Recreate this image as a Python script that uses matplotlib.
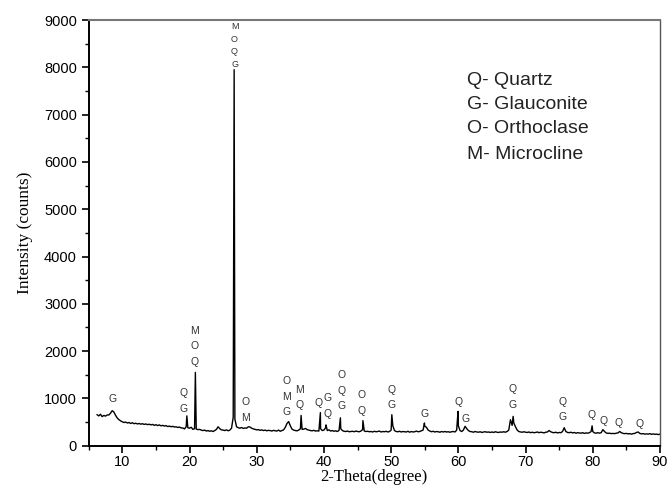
import matplotlib
matplotlib.use("Agg")
import matplotlib.pyplot as plt
import numpy as np

# XRD scan: 2-theta from 6.25 to 90 deg, 0.25 deg step (background counts)
scan_start = 6.25
scan_step = 0.25
background = [
    655, 630, 665,
    615, 640, 625, 650,      # 7
    650, 690, 740, 710,      # 8
    640, 585, 550, 525,      # 9
    505, 490, 500, 480,      # 10
    490, 470, 485, 465,      # 11
    475, 460, 470, 455,      # 12
    465, 450, 460, 445,      # 13
    455, 440, 450, 430,      # 14
    445, 425, 440, 420,      # 15
    430, 415, 425, 405,      # 16
    415, 400, 410, 395,      # 17
    400, 385, 395, 375,      # 18
    375, 355, 400, 380,      # 19
    370, 390, 345, 360,      # 20
    350, 340, 345, 330,      # 21
    320, 330, 310, 320,      # 22
    305, 315, 300, 320,      # 23
    345, 400, 360, 335,      # 24
    330, 320, 335, 315,      # 25
    330, 370, 600, 560,      # 26
    400, 380, 370, 385,      # 27
    365, 375, 370, 400,      # 28
    395, 370, 355, 345,      # 29
    335, 340, 325, 335,      # 30
    320, 330, 315, 325,      # 31
    320, 310, 325, 315,      # 32
    310, 330, 305, 320,      # 33
    335, 390, 470, 510,      # 34
    420, 350, 330, 320,      # 35
    315, 330, 360, 345,      # 36
    350, 365, 340, 330,      # 37
    320, 315, 325, 310,      # 38
    315, 310, 360, 320,      # 39
    330, 380, 320, 335,      # 40
    310, 320, 305, 315,      # 41
    300, 325, 360, 320,      # 42
    305, 300, 310, 295,      # 43
    300, 305, 295, 310,      # 44
    300, 295, 310, 340,      # 45
    310, 300, 305, 295,      # 46
    300, 290, 305, 295,      # 47
    300, 310, 290, 300,      # 48
    295, 305, 290, 300,      # 49
    330, 420, 320, 300,      # 50
    295, 305, 290, 300,      # 51
    295, 290, 305, 285,      # 52
    300, 290, 295, 310,      # 53
    295, 300, 315, 330,      # 54
    410, 390, 330, 310,      # 55
    295, 305, 290, 300,      # 56
    295, 285, 300, 290,      # 57
    300, 290, 295, 285,      # 58
    295, 300, 290, 330,      # 59
    420, 320, 300, 330,      # 60
    410, 360, 320, 300,      # 61
    295, 285, 300, 290,      # 62
    285, 295, 280, 290,      # 63
    295, 285, 290, 280,      # 64
    290, 280, 295, 285,      # 65
    280, 290, 285, 295,      # 66
    285, 300, 330, 550,      # 67
    430, 480, 400, 330,      # 68
    300, 290, 285, 295,      # 69
    285, 280, 290, 275,      # 70
    285, 275, 280, 290,      # 71
    275, 285, 280, 270,      # 72
    285, 290, 320, 295,      # 73
    280, 275, 285, 270,      # 74
    280, 275, 300, 380,      # 75
    300, 280, 275, 285,      # 76
    270, 280, 265, 275,      # 77
    270, 265, 275, 260,      # 78
    270, 265, 275, 300,      # 79
    300, 270, 265, 275,      # 80
    265, 275, 340, 300,      # 81
    270, 260, 265, 255,      # 82
    260, 255, 265, 270,      # 83
    300, 275, 260, 255,      # 84
    260, 250, 255, 245,      # 85
    255, 260, 280, 290,      # 86
    260, 250, 255, 245,      # 87
    250, 245, 255, 240,      # 88
    250, 240, 245, 235,      # 89
    245,                     # 90
]

# sharp reflections (2-theta, counts)
peak_pos = [19.6, 20.87, 26.64, 36.6, 39.47, 40.3, 42.45, 45.8, 50.1, 54.95, 59.95, 68.15, 79.9]
peak_int = [630, 1550, 7950, 640, 700, 440, 590, 530, 655, 480, 725, 620, 420]

# phase labels: 2-theta, counts of lowest letter, letters top to bottom
label_pos = [8.6, 19.15, 20.75, 28.4, 34.5, 36.3, 39.2, 40.6, 42.6, 45.6, 50.0,
             54.9, 60.0, 61.0, 68.0, 75.5, 79.8, 81.6, 83.9, 86.9]
label_int = [994, 780, 1775, 585, 710, 850, 900, 670, 830, 740, 850,
             670, 920, 570, 870, 600, 640, 515, 490, 465]
label_txt = ["G", "QG", "MOQ", "OM", "OMG", "MQ", "Q", "GQ", "OQG", "OQ", "QG",
             "G", "Q", "G", "QG", "QG", "Q", "Q", "Q", "Q"]
main_label_pos = 26.7
main_label_int = 8070
main_label_txt = "MOQG"

legend_lines = ["Q- Quartz", "G- Glauconite", "O- Orthoclase", "M- Microcline"]

theta = scan_start + scan_step * np.arange(len(background))
x = np.concatenate([theta, peak_pos])
y = np.concatenate([background, peak_int])
order = np.argsort(x, kind="stable")
x = x[order]
y = y[order]

fig = plt.figure(figsize=(6.68, 4.87), dpi=100)
ax = fig.add_axes([0.1328, 0.0848, 0.988 - 0.1328, 0.9589 - 0.0848])

ax.plot(x, y, color="black", linewidth=1.0)

# stacked phase letters above the peaks
for px, py, txt in zip(label_pos, label_int, label_txt):
    for i, letter in enumerate(reversed(txt)):
        ax.annotate(letter, (px, py), xytext=(0, i * 11.2), textcoords="offset points",
                    ha="center", va="center", fontsize=7.5, family="Liberation Sans",
                    color="#333333")
for i, letter in enumerate(reversed(main_label_txt)):
    ax.annotate(letter, (main_label_pos, main_label_int), xytext=(0, i * 8.9),
                textcoords="offset points", ha="center", va="center", fontsize=6.5,
                family="Liberation Sans", color="#333333")

leg_y = [7717, 7218, 6696, 6167]
for txt, ly in zip(legend_lines, leg_y):
    ax.text(61.3, ly, txt, ha="left", va="center", fontsize=14,
            family="Liberation Sans", color="#222222")

ax.set_xlim(5, 90)
ax.set_ylim(0, 9000)
ax.set_xticks(np.arange(10, 91, 10))
ax.set_xticks(np.arange(5, 91, 5), minor=True)
ax.set_yticks(np.arange(0, 9001, 1000))
ax.set_yticks(np.arange(0, 9001, 500), minor=True)

ax.tick_params(which="major", direction="out", length=5, width=1.2, labelsize=10.5)
ax.tick_params(axis="x", which="major", pad=2)
ax.tick_params(which="minor", direction="out", length=3, width=1.0)
ax.tick_params(top=False, right=False, which="both")
for lab in ax.get_xticklabels() + ax.get_yticklabels():
    lab.set_family("Liberation Sans")

ax.spines["left"].set_linewidth(1.4)
ax.spines["bottom"].set_linewidth(1.4)
ax.spines["top"].set_color("#777777")
ax.spines["top"].set_linewidth(1.5)
ax.spines["right"].set_color("#555555")
ax.spines["right"].set_linewidth(1.0)

ax.set_xlabel("2-Theta(degree)", family="Liberation Serif", fontsize=12, labelpad=0)
ax.set_ylabel("Intensity (counts)", family="Liberation Serif", fontsize=12.5, labelpad=8)

fig.savefig("out.png", dpi=100)
